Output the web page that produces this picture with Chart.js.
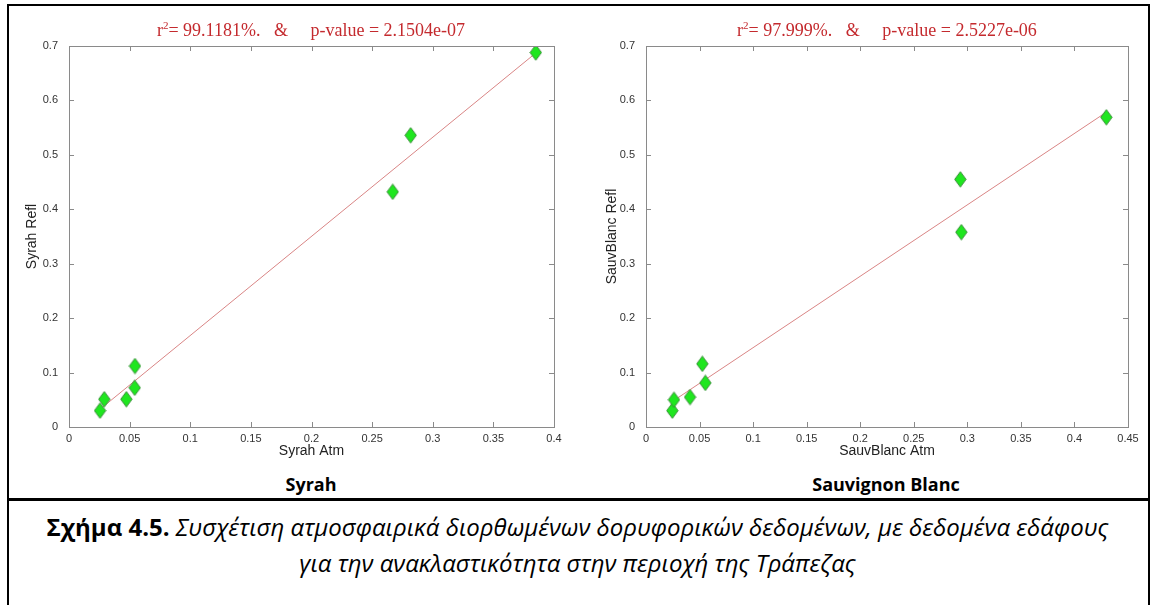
<!DOCTYPE html>
<html>
<head>
<meta charset="utf-8">
<script src="https://cdn.jsdelivr.net/npm/chart.js@4.4.0/dist/chart.umd.min.js"></script>
<style>
  body { margin: 0; background: #fff; }
  #page { position: relative; width: 1155px; height: 605px; overflow: hidden; background: #fff; }
  canvas { position: absolute; top: 0; }
  .stat { position: absolute; top: 19px; transform: translateX(-50%); white-space: pre;
          font-family: "Liberation Serif", serif; font-size: 18px; color: #c42a2e; line-height: 22px; }
  .stat sup { font-size: 11px; vertical-align: 7px; line-height: 0; }
  .panel { position: absolute; top: 472px; transform: translateX(-50%); white-space: pre;
           font-family: "Open Sans", sans-serif; font-weight: 700; font-size: 18px; color: #000; }
  .cap { position: absolute; left: 0; width: 1155px; text-align: center; white-space: pre;
         font-family: "Open Sans", sans-serif; font-size: 24px; line-height: 30px; color: #000; }
  .cap b { font-weight: 700; }
  .cap i { font-style: italic; }
  .box { position: absolute; left: 7px; top: 4px; width: 1139px; height: 620px; border: 2px solid #000; }
  .sep { position: absolute; left: 7px; top: 498px; width: 1141px; height: 3px; background: #000; }
</style>
</head>
<body>
<div id="page">
  <div class="box"></div>
  <div class="sep"></div>
  <canvas id="syrahChart" width="580" height="470" style="left:0"></canvas>
  <canvas id="sauvChart" width="575" height="470" style="left:580px"></canvas>
  <div class="stat" style="left:311px">r<sup>2</sup>= 99.1181%.   &amp;     p-value = 2.1504e-07</div>
  <div class="stat" style="left:887px">r<sup>2</sup>= 97.999%.   &amp;     p-value = 2.5227e-06</div>
  <div class="panel" style="left:311px">Syrah</div>
  <div class="panel" style="left:886px">Sauvignon Blanc</div>
  <div class="cap" style="top:512px"><b>Σχήμα 4.5.</b><i> Συσχέτιση ατμοσφαιρικά διορθωμένων δορυφορικών δεδομένων, με δεδομένα εδάφους</i></div>
  <div class="cap" style="top:548px"><i>για την ανακλαστικότητα στην περιοχή της Τράπεζας</i></div>
</div>
<script>
// values
const syrahAtm  = [0.0256, 0.0291, 0.0473, 0.0544, 0.0542, 0.267, 0.2818, 0.385];
const syrahRefl = [0.030, 0.051, 0.051, 0.112, 0.072, 0.432, 0.536, 0.688];
const sauvAtm   = [0.0246, 0.0261, 0.0411, 0.0526, 0.0554, 0.2935, 0.2944, 0.4298];
const sauvRefl  = [0.030, 0.050, 0.055, 0.116, 0.081, 0.455, 0.358, 0.569];

const syrahXTicks = [0, 0.05, 0.1, 0.15, 0.2, 0.25, 0.3, 0.35, 0.4];
const sauvXTicks  = [0, 0.05, 0.1, 0.15, 0.2, 0.25, 0.3, 0.35, 0.4, 0.45];
const reflTicks   = [0, 0.1, 0.2, 0.3, 0.4, 0.5, 0.6, 0.7];

// matlab style diamond marker
const diamond = document.createElement('canvas');
diamond.width = 13;
diamond.height = 17;
(function () {
  const c = diamond.getContext('2d');
  c.beginPath();
  c.moveTo(6.5, 0.8);
  c.lineTo(12.2, 8.5);
  c.lineTo(6.5, 16.2);
  c.lineTo(0.8, 8.5);
  c.closePath();
  c.fillStyle = '#1fe61f';
  c.fill();
  c.strokeStyle = '#3d8f3d';
  c.lineWidth = 1;
  c.stroke();
})();

// least squares line between min and max x
function fitLine(xs, ys) {
  const n = xs.length;
  let sx = 0, sy = 0, sxx = 0, sxy = 0;
  for (let i = 0; i < n; i++) {
    sx += xs[i]; sy += ys[i]; sxx += xs[i] * xs[i]; sxy += xs[i] * ys[i];
  }
  const b = (n * sxy - sx * sy) / (n * sxx - sx * sx);
  const a = (sy - b * sx) / n;
  const x0 = Math.min(...xs), x1 = Math.max(...xs);
  return [{x: x0, y: a + b * x0}, {x: x1, y: a + b * x1}];
}

// box round the axes + inward ticks on all sides
const boxPlugin = {
  id: 'matlabBox',
  afterDatasetsDraw(chart) {
    const {ctx, chartArea: a, scales} = chart;
    ctx.save();
    ctx.strokeStyle = '#8a8a8a';
    ctx.lineWidth = 1;
    ctx.strokeRect(Math.round(a.left) + 0.5, Math.round(a.top) + 0.5,
      Math.round(a.right - a.left), Math.round(a.bottom - a.top));
    ctx.beginPath();
    scales.x.ticks.forEach(t => {
      const px = Math.round(scales.x.getPixelForValue(t.value)) + 0.5;
      ctx.moveTo(px, a.bottom); ctx.lineTo(px, a.bottom - 5);
      ctx.moveTo(px, a.top); ctx.lineTo(px, a.top + 5);
    });
    scales.y.ticks.forEach(t => {
      const py = Math.round(scales.y.getPixelForValue(t.value)) + 0.5;
      ctx.moveTo(a.left, py); ctx.lineTo(a.left + 5, py);
      ctx.moveTo(a.right, py); ctx.lineTo(a.right - 5, py);
    });
    ctx.stroke();
    ctx.restore();
  }
};

function makeChart(id, xs, ys, xTicks, xMax, xTitle, yTitle, yWidth, rightPad) {
  const pts = xs.map((v, i) => ({x: v, y: ys[i]}));
  return new Chart(document.getElementById(id), {
    type: 'scatter',
    data: {
      datasets: [{
        data: pts,
        pointStyle: diamond,
        pointRadius: 7
      }, {
        type: 'line',
        data: fitLine(xs, ys),
        borderColor: '#d98585',
        borderWidth: 1,
        pointRadius: 0
      }]
    },
    options: {
      responsive: false,
      animation: false,
      events: [],
      layout: { padding: { left: 0, top: 46, right: rightPad, bottom: 0 } },
      plugins: { legend: { display: false }, tooltip: { enabled: false } },
      scales: {
        x: {
          type: 'linear', min: 0, max: xMax,
          afterBuildTicks: s => { s.ticks = xTicks.map(v => ({value: v})); },
          afterFit: s => { s.height = 43; },
          grid: { display: false, drawTicks: false },
          border: { display: false },
          ticks: { padding: 5, color: '#333', font: { family: 'Liberation Sans', size: 11 },
                   callback: v => String(v) },
          title: { display: true, text: xTitle, color: '#222', padding: { bottom: 10 },
                   font: { family: 'Liberation Sans', size: 14 } }
        },
        y: {
          type: 'linear', min: 0, max: 0.7,
          afterBuildTicks: s => { s.ticks = reflTicks.map(v => ({value: v})); },
          afterFit: s => { s.width = yWidth; },
          grid: { display: false, drawTicks: false },
          border: { display: false },
          ticks: { padding: 11, color: '#333', font: { family: 'Liberation Sans', size: 11 },
                   callback: v => String(v) },
          title: { display: true, text: yTitle, color: '#222', padding: { top: 24 },
                   font: { family: 'Liberation Sans', size: 14 } }
        }
      }
    },
    plugins: [boxPlugin]
  });
}

makeChart('syrahChart', syrahAtm, syrahRefl, syrahXTicks, 0.4, 'Syrah Atm', 'Syrah Refl', 69, 26);
makeChart('sauvChart', sauvAtm, sauvRefl, sauvXTicks, 0.45, 'SauvBlanc Atm', 'SauvBlanc Refl', 66, 27);
</script>
</body>
</html>
